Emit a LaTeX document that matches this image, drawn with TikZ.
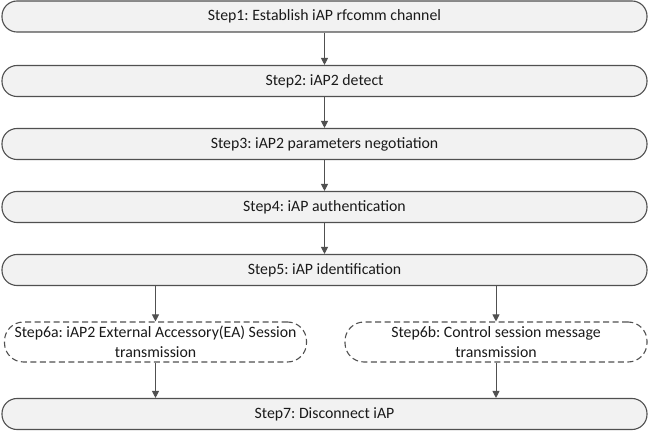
\documentclass[tikz,border=0pt]{standalone}
\usepackage{fontspec}
\setmainfont{Carlito}
\usetikzlibrary{arrows.meta}
\definecolor{boxfill}{HTML}{F2F2F2}
\definecolor{boxline}{HTML}{505050}
\definecolor{txt}{HTML}{1A1A1A}
\frenchspacing
\begin{document}
\begin{tikzpicture}[x=1pt,y=-1pt,
  stepbox/.style={draw=boxline, fill=boxfill, line width=1.1pt, rounded corners=15pt,
    minimum width=645pt, minimum height=31pt, inner sep=0pt, text=txt,
    font=\fontsize{15.8}{18}\selectfont},
  optbox/.style={draw=boxline, dash pattern=on 6pt off 3.5pt, line width=1.1pt,
    rounded corners=19pt, fill=white, minimum height=40pt, inner sep=0pt, text=txt,
    align=center, font=\fontsize{15.8}{19.5}\selectfont},
  conn/.style={draw=boxline, line width=1pt, -{Triangle[length=7pt,width=7pt]}}]
\useasboundingbox (0,0) rectangle (649,433);
\node[stepbox] (s1) at (324.5,16.5) {Step1: Establish iAP rfcomm channel};
\node[stepbox] (s2) at (324.5,81) {Step2: iAP2 detect};
\node[stepbox] (s3) at (324.5,144) {Step3: iAP2 parameters negotiation};
\node[stepbox] (s4) at (324.5,207) {Step4: iAP authentication};
\node[stepbox] (s5) at (324.5,270) {Step5: iAP identification};
\node[optbox, minimum width=302pt] (s6a) at (155.5,342) {Step6a: iAP2 External Accessory(EA) Session\\transmission};
\node[optbox, minimum width=302pt] (s6b) at (496,342) {Step6b: Control session message\\transmission};
\node[stepbox] (s7) at (324.5,414) {Step7: Disconnect iAP};
\draw[conn] (s1.south) -- (s2.north);
\draw[conn] (s2.south) -- (s3.north);
\draw[conn] (s3.south) -- (s4.north);
\draw[conn] (s4.south) -- (s5.north);
\draw[conn] (s6a.north |- s5.south) -- (s6a.north);
\draw[conn] (s6b.north |- s5.south) -- (s6b.north);
\draw[conn] (s6a.south) -- (s6a.south |- s7.north);
\draw[conn] (s6b.south) -- (s6b.south |- s7.north);
\end{tikzpicture}
\end{document}
